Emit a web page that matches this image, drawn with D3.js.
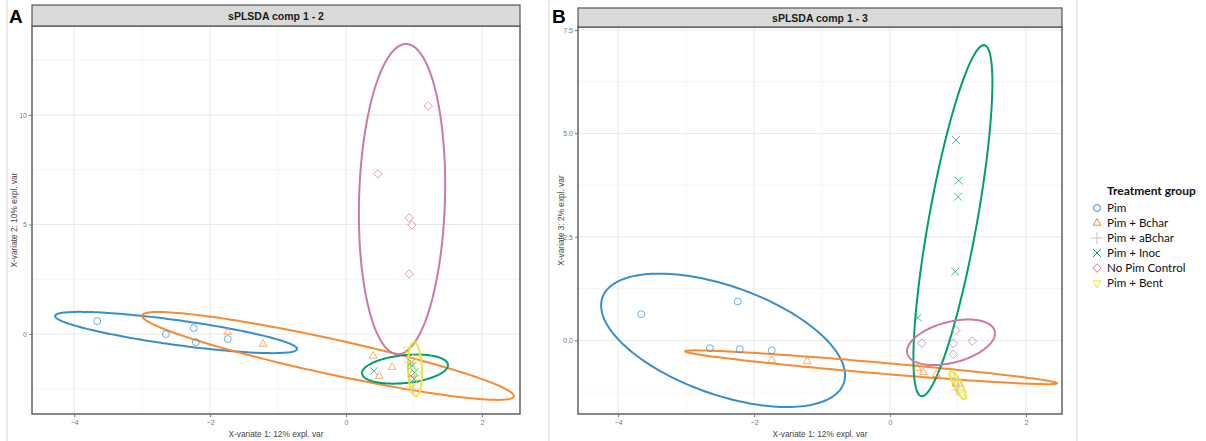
<!DOCTYPE html>
<html>
<head>
<meta charset="utf-8">
<script src="https://cdn.jsdelivr.net/npm/d3@7"></script>
<style>
  body { margin: 0; background: #fff; }
  svg { display: block; font-family: "Liberation Sans", Arial, sans-serif; }
</style>
</head>
<body>
<svg id="chart" width="1206" height="441"></svg>
<script>
// treatment groups, mixOmics default colours
var groups = ["Pim", "Pim + Bchar", "Pim + aBchar", "Pim + Inoc", "No Pim Control", "Pim + Bent"];
var groupColors = ["#388ECC", "#F68B33", "#C2C2C2", "#009E73", "#CC79A7", "#F0E442"];

// sample scores per group (comp 1, comp 2, comp 3)
var pimComp1 = [-3.66, -2.65, -2.24, -2.21, -1.74];
var pimComp2 = [0.59, 0.00, 0.27, -0.37, -0.23];
var pimComp3 = [0.63, -0.19, 0.94, -0.22, -0.24];

var bcharComp1 = [-1.74, -1.22, 0.40, 0.68, 0.49, 0.97];
var bcharComp2 = [0.09, -0.46, -1.00, -1.51, -1.92, -1.85];
var bcharComp3 = [-0.48, -0.51, -0.67, -0.82, -0.77, -1.05];

var abcharComp1 = [0.95, 1.00, 0.98];
var abcharComp2 = [-1.30, -2.10, -2.50];
var abcharComp3 = [-0.95, -1.10, -1.20];

var inocComp1 = [0.97, 1.01, 1.00, 0.96, 0.41];
var inocComp2 = [-1.45, -1.75, -2.05, -1.30, -1.69];
var inocComp3 = [4.84, 3.86, 3.47, 1.66, 0.55];

var controlComp1 = [1.21, 0.47, 0.93, 0.97, 0.93];
var controlComp2 = [10.41, 7.31, 5.30, 4.98, 2.74];
var controlComp3 = [-0.02, -0.07, -0.07, 0.24, -0.34];

var bentComp1 = [0.90, 0.94, 0.97, 1.00, 1.03, 1.06];
var bentComp2 = [-0.70, -2.50, -1.40, -2.20, -1.00, -1.80];
var bentComp3 = [-0.85, -0.95, -1.02, -1.10, -1.20, -1.30];

// 95% ellipses: centre x, centre y, then two conjugate semi-axes (ux, uy, vx, vy)
var ellipses12 = [
  [-2.50, 0.07, 1.78, -0.75, 0, 0.57],
  [-0.265, -1.00, 2.735, -1.83, 0, 0.82],
  null,
  [0.868, -1.60, 0.632, 0.18, 0, 0.64],
  [0.824, 6.16, 0.059, 7.08, 0.632, 0],
  [1.015, -1.60, -0.015, 1.23, 0.103, 0]
];
var ellipses13 = [
  [-2.456, 0.0, 1.794, -0.843, 0, 1.373],
  [-0.279, -0.651, 2.735, -0.386, 0, 0.133],
  null,
  [0.925, 2.892, 0.456, 4.241, 0.36, 0],
  [0.897, -0.048, 0.647, 0.217, 0, 0.506],
  [1.0, -1.084, 0.103, -0.337, 0.053, 0.043]
];

var xTicks = [-4, -2, 0, 2];
var xMinor = [-3, -1, 1];
var y2Ticks = [0, 5, 10];
var y2Minor = [-2.5, 2.5, 7.5, 12.5];
var y3Ticks = [0, 2.5, 5, 7.5];
var y3Minor = [-1.25, 1.25, 3.75, 6.25];

var comp1 = [pimComp1, bcharComp1, abcharComp1, inocComp1, controlComp1, bentComp1];
var comp2 = [pimComp2, bcharComp2, abcharComp2, inocComp2, controlComp2, bentComp2];
var comp3 = [pimComp3, bcharComp3, abcharComp3, inocComp3, controlComp3, bentComp3];

var svg = d3.select("#chart");

var symbolTypes = [d3.symbolCircle, d3.symbolTriangle2, d3.symbolPlus, d3.symbolX, d3.symbolDiamond2, d3.symbolTriangle2];
var symbolRotate = [0, 0, 0, 0, 0, 180];
var symbolSizes = [38, 42, 50, 42, 46, 42];

function symbolPath(i) {
  return d3.symbol().type(symbolTypes[i]).size(symbolSizes[i])();
}

// light frames of the two figure images
[7, 549, 1077].forEach(function(x) {
  svg.append("line").attr("x1", x).attr("x2", x).attr("y1", 0).attr("y2", 441)
    .attr("stroke", "#d6d6d6").attr("stroke-width", 1);
});

function drawPanel(p) {
  var g = svg.append("g");
  var x = d3.scaleLinear().domain(p.xDomain).range([p.left, p.right]);
  var y = d3.scaleLinear().domain(p.yDomain).range([p.bottom, p.top]);

  // grid
  g.selectAll(".vminor").data(xMinor).enter().append("line")
    .attr("x1", x).attr("x2", x).attr("y1", p.top).attr("y2", p.bottom)
    .attr("stroke", "#f2f2f2").attr("stroke-width", 0.8);
  g.selectAll(".hminor").data(p.yMinor).enter().append("line")
    .attr("y1", y).attr("y2", y).attr("x1", p.left).attr("x2", p.right)
    .attr("stroke", "#f2f2f2").attr("stroke-width", 0.8);
  g.selectAll(".vmajor").data(xTicks).enter().append("line")
    .attr("x1", x).attr("x2", x).attr("y1", p.top).attr("y2", p.bottom)
    .attr("stroke", "#e8e8e8").attr("stroke-width", 1);
  g.selectAll(".hmajor").data(p.yTicks).enter().append("line")
    .attr("y1", y).attr("y2", y).attr("x1", p.left).attr("x2", p.right)
    .attr("stroke", "#e8e8e8").attr("stroke-width", 1);

  // ellipses
  var ts = d3.range(0, 2 * Math.PI, Math.PI / 90);
  var line = d3.line().curve(d3.curveLinearClosed);
  p.ellipses.forEach(function(e, i) {
    if (!e) return;
    var pts = ts.map(function(t) {
      return [x(e[0] + e[2] * Math.cos(t) + e[4] * Math.sin(t)),
              y(e[1] + e[3] * Math.cos(t) + e[5] * Math.sin(t))];
    });
    g.append("path").attr("d", line(pts)).attr("fill", "none")
      .attr("stroke", groupColors[i]).attr("stroke-width", 2);
  });

  // points
  groups.forEach(function(name, i) {
    var xs = comp1[i], ys = p.ycomp[i];
    g.selectAll(".pt" + i).data(xs).enter().append("path")
      .attr("d", symbolPath(i))
      .attr("transform", function(d, j) {
        return "translate(" + x(d) + "," + y(ys[j]) + ") rotate(" + symbolRotate[i] + ")";
      })
      .attr("fill", "none").attr("stroke", groupColors[i])
      .attr("stroke-width", 0.9).attr("opacity", 0.8);
  });

  // panel border
  g.append("rect").attr("x", p.left).attr("y", p.top)
    .attr("width", p.right - p.left).attr("height", p.bottom - p.top)
    .attr("fill", "none").attr("stroke", "#555").attr("stroke-width", 1.4);

  // strip
  g.append("rect").attr("x", p.left).attr("y", p.stripTop)
    .attr("width", p.right - p.left).attr("height", p.top - p.stripTop)
    .attr("fill", "#d9d9d9").attr("stroke", "#555").attr("stroke-width", 1.2);
  g.append("text").attr("x", (p.left + p.right) / 2).attr("y", (p.stripTop + p.top) / 2 + 4)
    .attr("text-anchor", "middle").attr("font-size", 10.5).attr("font-weight", "bold")
    .attr("fill", "#1a1a1a").text(p.title);

  // axes
  var xAxis = d3.axisBottom(x).tickValues(xTicks).tickSize(3).tickPadding(3)
    .tickFormat(d3.format("d"));
  var gx = g.append("g").attr("transform", "translate(0," + p.bottom + ")").call(xAxis);
  var yAxis = d3.axisLeft(y).tickValues(p.yTicks).tickSize(3).tickPadding(2)
    .tickFormat(p.yFormat);
  var gy = g.append("g").attr("transform", "translate(" + p.left + ",0)").call(yAxis);
  [gx, gy].forEach(function(a) {
    a.select(".domain").remove();
    a.selectAll(".tick line").attr("stroke", "#777");
    a.selectAll(".tick text").attr("fill", "#777").attr("font-size", 7)
      .attr("font-family", "Liberation Sans, Arial, sans-serif");
  });

  g.append("text").attr("x", (p.left + p.right) / 2).attr("y", 437)
    .attr("text-anchor", "middle").attr("font-size", 8.3).attr("fill", "#444")
    .text("X-variate 1: 12% expl. var");
  g.append("text")
    .attr("transform", "translate(" + p.yTitleX + "," + ((p.top + p.bottom) / 2) + ") rotate(-90)")
    .attr("text-anchor", "middle").attr("font-size", 8.3).attr("fill", "#444")
    .text(p.yTitle);

  g.append("text").attr("x", p.letterX).attr("y", 23)
    .attr("font-size", 19).attr("font-weight", "bold").attr("fill", "#000")
    .text(p.letter);
}

drawPanel({
  letter: "A", letterX: 9,
  title: "sPLSDA comp 1 - 2",
  left: 32, right: 520, top: 26, bottom: 414, stripTop: 5,
  xDomain: [-4.62, 2.56], yDomain: [-3.65, 14.06],
  yTicks: y2Ticks, yMinor: y2Minor, yFormat: d3.format("d"),
  ycomp: comp2, ellipses: ellipses12,
  yTitle: "X-variate 2: 10% expl. var", yTitleX: 17
});

drawPanel({
  letter: "B", letterX: 552,
  title: "sPLSDA comp 1 - 3",
  left: 578, right: 1062, top: 27, bottom: 414, stripTop: 8,
  xDomain: [-4.59, 2.53], yDomain: [-1.78, 7.57],
  yTicks: y3Ticks, yMinor: y3Minor, yFormat: d3.format(".1f"),
  ycomp: comp3, ellipses: ellipses13,
  yTitle: "X-variate 3: 2% expl. var", yTitleX: 564
});

// legend
var legend = svg.append("g").attr("font-family", "Lato, 'Open Sans', sans-serif");
legend.append("text").attr("x", 1107).attr("y", 195).attr("font-size", 12)
  .attr("font-weight", "bold").attr("fill", "#111").text("Treatment group");
var item = legend.selectAll(".item").data(groups).enter().append("g")
  .attr("transform", function(d, i) { return "translate(1097," + (208 + i * 15) + ")"; });
item.append("path")
  .attr("d", function(d, i) { return symbolPath(i); })
  .attr("transform", function(d, i) { return "rotate(" + symbolRotate[i] + ")"; })
  .attr("fill", "none").attr("stroke", function(d, i) { return groupColors[i]; })
  .attr("stroke-width", 1);
item.append("text").attr("x", 10).attr("y", 4).attr("font-size", 11.6)
  .attr("fill", "#111").text(function(d) { return d; });
</script>
</body>
</html>
